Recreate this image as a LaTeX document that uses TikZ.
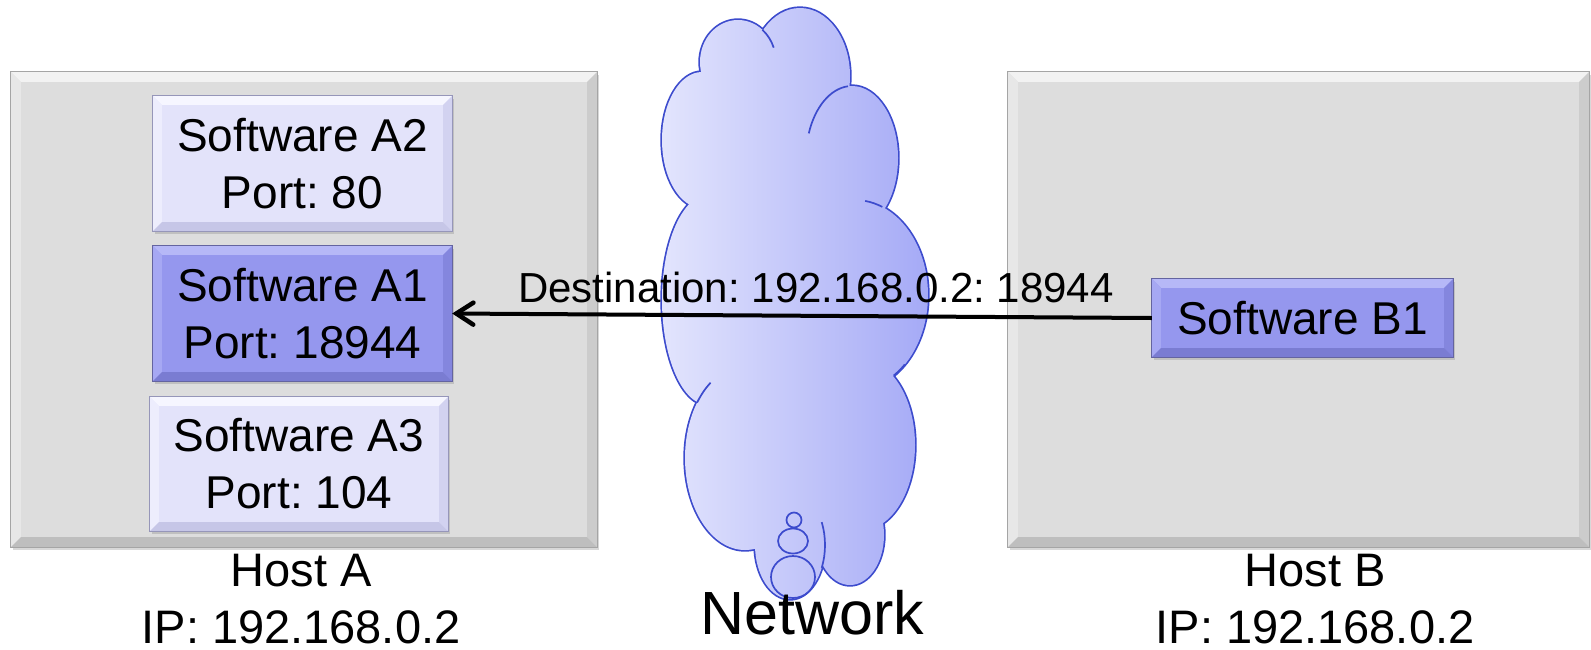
\documentclass[tikz,border=0pt]{standalone}
\usepackage{fontspec}
\setmainfont{Liberation Sans}
\frenchspacing
\usetikzlibrary{arrows.meta,shadows,calc}
\definecolor{hostgray}{RGB}{221,221,221}
\definecolor{hosttop}{RGB}{242,242,242}
\definecolor{hostleft}{RGB}{231,231,231}
\definecolor{hostright}{RGB}{204,204,204}
\definecolor{hostbottom}{RGB}{190,190,190}
\definecolor{hostborder}{RGB}{165,165,165}
\definecolor{swlight}{RGB}{227,227,250}
\definecolor{swltop}{RGB}{246,246,255}
\definecolor{swlleft}{RGB}{237,237,253}
\definecolor{swlright}{RGB}{210,210,240}
\definecolor{swlbottom}{RGB}{198,198,231}
\definecolor{swlborder}{RGB}{150,150,185}
\definecolor{swdark}{RGB}{149,151,238}
\definecolor{swdtop}{RGB}{182,184,247}
\definecolor{swdleft}{RGB}{166,168,243}
\definecolor{swdright}{RGB}{132,134,222}
\definecolor{swdbottom}{RGB}{122,124,210}
\definecolor{swdborder}{RGB}{100,100,160}
\definecolor{cloudblue}{RGB}{60,75,205}
\definecolor{cloudL}{RGB}{228,230,253}
\definecolor{cloudR}{RGB}{163,168,246}
\newcommand{\swfont}{\fontsize{46}{57}\selectfont}
\newcommand{\hostfont}{\fontsize{47}{57}\selectfont}
\newcommand{\destfont}{\fontsize{42}{50}\selectfont}
\newcommand{\netfont}{\fontsize{61}{70}\selectfont}
\newcommand{\bevelize}[7]{%
  \fill[#3] (#1.north west) -- (#1.north east) -- ([shift={(-#2pt,-#2pt)}]#1.north east) -- ([shift={(#2pt,-#2pt)}]#1.north west) -- cycle;
  \fill[#4] (#1.north west) -- ([shift={(#2pt,-#2pt)}]#1.north west) -- ([shift={(#2pt,#2pt)}]#1.south west) -- (#1.south west) -- cycle;
  \fill[#5] (#1.north east) -- ([shift={(-#2pt,-#2pt)}]#1.north east) -- ([shift={(-#2pt,#2pt)}]#1.south east) -- (#1.south east) -- cycle;
  \fill[#6] (#1.south west) -- (#1.south east) -- ([shift={(-#2pt,#2pt)}]#1.south east) -- ([shift={(#2pt,#2pt)}]#1.south west) -- cycle;
  \draw[#7, line width=1pt] (#1.north west) rectangle (#1.south east);
}
\newcommand{\cloudpath}{%
  (738,62) ellipse [x radius=38pt, y radius=42pt]
  (702,140) ellipse [x radius=40pt, y radius=68pt]
  (800,76) ellipse [x radius=50pt, y radius=68pt]
  (852,158) ellipse [x radius=46pt, y radius=72pt]
  (855,295) ellipse [x radius=73pt, y radius=95pt]
  (862,445) ellipse [x radius=53pt, y radius=85pt]
  (850,535) ellipse [x radius=34pt, y radius=50pt]
  (790,545) ellipse [x radius=35pt, y radius=54pt]
  (745,458) ellipse [x radius=60pt, y radius=92pt]
  (708,300) ellipse [x radius=46pt, y radius=105pt]
  (790,310) ellipse [x radius=95pt, y radius=250pt]}
\newcommand{\cloudarc}[6]{\draw[cloudline] ([shift={(#5:#3pt and #4pt)}]#1,#2) arc [start angle=#5, end angle=#6, x radius=#3pt, y radius=#4pt];}
\begin{document}
\begin{tikzpicture}[x=1pt,y=-1pt,
  hostbox/.style={fill=hostgray, inner sep=0pt,
    drop shadow={shadow xshift=1.5pt,shadow yshift=-3pt,opacity=0.3}},
  swbox/.style={fill=#1, inner sep=0pt, align=center, font=\swfont,
    drop shadow={shadow xshift=1.5pt,shadow yshift=-3pt,opacity=0.3}},
  cloudline/.style={draw=cloudblue, line width=1.7pt},
  hostlabel/.style={anchor=north, inner sep=0pt, align=center, font=\hostfont},
  msgarrow/.style={line width=4pt, -{Straight Barb[length=17pt,width=22pt,line width=4.5pt,line cap=round]}}]
\useasboundingbox (0,0) rectangle (1591,649);
\fill[white] (0,0) rectangle (1591,649);

% hosts
\node[hostbox, minimum width=586pt, minimum height=475pt] (hA) at (304,309.5) {};
\bevelize{hA}{10}{hosttop}{hostleft}{hostright}{hostbottom}{hostborder}
\node[hostbox, minimum width=581pt, minimum height=475pt] (hB) at (1298.5,309.5) {};
\bevelize{hB}{10}{hosttop}{hostleft}{hostright}{hostbottom}{hostborder}

\node[hostlabel] (lA) at (301,554) {Host A\\IP: 192.168.0.2};
\node[hostlabel] (lB) at (1315,554) {Host B\\IP: 192.168.0.2};

% cloud
\draw[cloudblue, line width=3.4pt] \cloudpath;
\begin{scope}
  \clip \cloudpath;
  \shade[left color=cloudL, right color=cloudR] (655,0) rectangle (936,610);
\end{scope}
\cloudarc{738}{62}{38}{42}{50}{20}
\cloudarc{852}{158}{46}{72}{160}{95}
\cloudarc{855}{295}{73}{95}{68}{82}
\cloudarc{855}{295}{73}{95}{-47}{-58}
\cloudarc{790}{545}{35}{54}{-25}{25}
\cloudarc{745}{458}{60}{92}{143}{125}
\draw[cloudline] (794,520) circle [radius=7.5pt];
\draw[cloudline] (793,541) ellipse [x radius=15pt, y radius=12.5pt];
\draw[cloudline] (793,577) ellipse [x radius=22pt, y radius=21pt];
\node[anchor=base, inner sep=0pt, font=\netfont] (net) at (812,634) {Network};

% software
\node[swbox=swlight, minimum width=299pt, minimum height=135pt] (a2) at (302.5,163.5) {Software A2\\Port: 80};
\bevelize{a2}{9}{swltop}{swlleft}{swlright}{swlbottom}{swlborder}
\node[swbox=swdark, minimum width=299pt, minimum height=135pt] (a1) at (302.5,313.5) {Software A1\\Port: 18944};
\bevelize{a1}{9}{swdtop}{swdleft}{swdright}{swdbottom}{swdborder}
\node[swbox=swlight, minimum width=298pt, minimum height=134pt] (a3) at (299,464) {Software A3\\Port: 104};
\bevelize{a3}{9}{swltop}{swlleft}{swlright}{swlbottom}{swlborder}
\node[swbox=swdark, minimum width=301pt, minimum height=78pt] (b1) at (1302.5,318) {Software B1};
\bevelize{b1}{9}{swdtop}{swdleft}{swdright}{swdbottom}{swdborder}

% message
\draw[msgarrow] (b1.west) -- node[pos=0.48, above=11pt, inner sep=0pt, font=\destfont] (dest) {Destination: 192.168.0.2: 18944} (a1.east);
\end{tikzpicture}
\end{document}
